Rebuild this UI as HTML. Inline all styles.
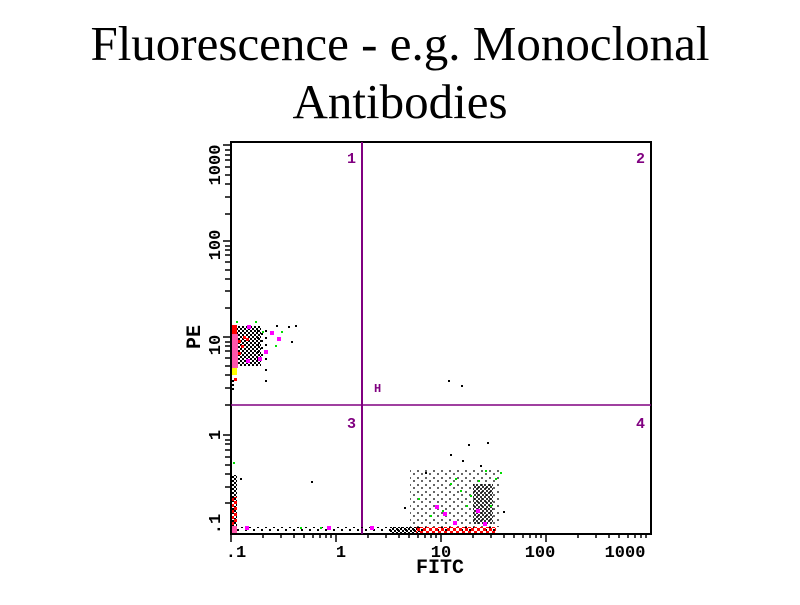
<!DOCTYPE html>
<html><head><style>
body{margin:0;background:#fff;width:800px;height:600px;overflow:hidden}
</style></head><body>
<svg width="800" height="600" xmlns="http://www.w3.org/2000/svg">
<defs>
<pattern id="ck" width="4" height="4" patternUnits="userSpaceOnUse"><rect x="0" y="0" width="2" height="2" fill="#000"/><rect x="2" y="2" width="2" height="2" fill="#000"/></pattern>
<pattern id="sp" width="8" height="7" patternUnits="userSpaceOnUse"><rect x="1" y="1" width="2" height="2" fill="#000"/><rect x="5" y="4" width="2" height="2" fill="#000"/></pattern>
<pattern id="rd" width="6" height="6" patternUnits="userSpaceOnUse"><rect x="0" y="3" width="3" height="3" fill="#f00"/><rect x="3" y="0" width="3" height="3" fill="#f00"/></pattern>
</defs>
<text x="400" y="60" text-anchor="middle" font-family="Liberation Serif, serif" font-size="49">Fluorescence - e.g. Monoclonal</text>
<text x="400" y="118" text-anchor="middle" font-family="Liberation Serif, serif" font-size="49">Antibodies</text>
<g stroke="#000" stroke-width="2" fill="none">
<line x1="231" y1="141" x2="231" y2="535"/>
<line x1="230" y1="142" x2="652" y2="142"/>
<line x1="651" y1="141" x2="651" y2="535"/>
<line x1="230" y1="534" x2="652" y2="534"/>
</g>
<line x1="231" y1="405" x2="651" y2="405" stroke="#800080" stroke-width="1.5"/>
<line x1="362" y1="142" x2="362" y2="534" stroke="#800080" stroke-width="2"/>
<g font-family="Liberation Mono, monospace" font-weight="bold" font-size="15" fill="#800080">
<text x="347" y="163">1</text><text x="636" y="163">2</text>
<text x="347" y="428">3</text><text x="636" y="428">4</text>
<text x="374" y="392" font-size="12">H</text>
</g>
<g stroke="#000" stroke-width="1.5">
<line x1="223" y1="145" x2="231" y2="145"/><line x1="225" y1="150" x2="231" y2="150"/><line x1="225" y1="155" x2="231" y2="155"/><line x1="225" y1="160" x2="231" y2="160"/><line x1="225" y1="167" x2="231" y2="167"/><line x1="225" y1="175" x2="231" y2="175"/><line x1="225" y1="184" x2="231" y2="184"/><line x1="225" y1="197" x2="231" y2="197"/><line x1="225" y1="214" x2="231" y2="214"/>
<line x1="223" y1="241" x2="231" y2="241"/><line x1="225" y1="246" x2="231" y2="246"/><line x1="225" y1="250" x2="231" y2="250"/><line x1="225" y1="255" x2="231" y2="255"/><line x1="225" y1="262" x2="231" y2="262"/><line x1="225" y1="270" x2="231" y2="270"/><line x1="225" y1="279" x2="231" y2="279"/><line x1="225" y1="291" x2="231" y2="291"/><line x1="225" y1="308" x2="231" y2="308"/>
<line x1="223" y1="337" x2="231" y2="337"/><line x1="225" y1="342" x2="231" y2="342"/><line x1="225" y1="346" x2="231" y2="346"/><line x1="225" y1="351" x2="231" y2="351"/><line x1="225" y1="358" x2="231" y2="358"/><line x1="225" y1="366" x2="231" y2="366"/><line x1="225" y1="375" x2="231" y2="375"/><line x1="225" y1="388" x2="231" y2="388"/><line x1="225" y1="405" x2="231" y2="405"/>
<line x1="223" y1="435" x2="231" y2="435"/><line x1="225" y1="440" x2="231" y2="440"/><line x1="225" y1="444" x2="231" y2="444"/><line x1="225" y1="450" x2="231" y2="450"/><line x1="225" y1="457" x2="231" y2="457"/><line x1="225" y1="465" x2="231" y2="465"/><line x1="225" y1="474" x2="231" y2="474"/><line x1="225" y1="487" x2="231" y2="487"/><line x1="225" y1="503" x2="231" y2="503"/>
</g>
<g stroke="#000" stroke-width="1.5">
<line x1="231" y1="534" x2="231" y2="542"/><line x1="263" y1="534" x2="263" y2="538"/><line x1="281" y1="534" x2="281" y2="538"/><line x1="294" y1="534" x2="294" y2="538"/><line x1="304" y1="534" x2="304" y2="538"/><line x1="313" y1="534" x2="313" y2="538"/><line x1="320" y1="534" x2="320" y2="538"/><line x1="326" y1="534" x2="326" y2="538"/><line x1="331" y1="534" x2="331" y2="538"/>
<line x1="336" y1="534" x2="336" y2="542"/><line x1="368" y1="534" x2="368" y2="538"/><line x1="386" y1="534" x2="386" y2="538"/><line x1="399" y1="534" x2="399" y2="538"/><line x1="409" y1="534" x2="409" y2="538"/><line x1="418" y1="534" x2="418" y2="538"/><line x1="425" y1="534" x2="425" y2="538"/><line x1="431" y1="534" x2="431" y2="538"/><line x1="436" y1="534" x2="436" y2="538"/>
<line x1="441" y1="534" x2="441" y2="542"/><line x1="473" y1="534" x2="473" y2="538"/><line x1="491" y1="534" x2="491" y2="538"/><line x1="504" y1="534" x2="504" y2="538"/><line x1="514" y1="534" x2="514" y2="538"/><line x1="523" y1="534" x2="523" y2="538"/><line x1="530" y1="534" x2="530" y2="538"/><line x1="536" y1="534" x2="536" y2="538"/><line x1="541" y1="534" x2="541" y2="538"/>
<line x1="546" y1="534" x2="546" y2="542"/><line x1="578" y1="534" x2="578" y2="538"/><line x1="596" y1="534" x2="596" y2="538"/><line x1="609" y1="534" x2="609" y2="538"/><line x1="619" y1="534" x2="619" y2="538"/><line x1="628" y1="534" x2="628" y2="538"/><line x1="635" y1="534" x2="635" y2="538"/><line x1="641" y1="534" x2="641" y2="538"/><line x1="646" y1="534" x2="646" y2="538"/>
</g>
<g font-family="Liberation Mono, monospace" font-weight="bold" font-size="17" fill="#000">
<text x="236" y="557" text-anchor="middle">.1</text>
<text x="341" y="557" text-anchor="middle">1</text>
<text x="441" y="557" text-anchor="middle">10</text>
<text x="540" y="557" text-anchor="middle">100</text>
<text x="625" y="557" text-anchor="middle">1000</text>
<text x="440" y="573" text-anchor="middle" font-size="20">FITC</text>
<g transform="rotate(-90)">
<text x="-345" y="220" text-anchor="middle">10</text>
<text x="-245" y="220" text-anchor="middle">100</text>
<text x="-165" y="220" text-anchor="middle">1000</text>
<text x="-435" y="220" text-anchor="middle">1</text>
<text x="-524" y="220" text-anchor="middle">.1</text>
<text x="-337" y="200" text-anchor="middle" font-size="20">PE</text>
</g>
</g>
<!-- upper-left cluster -->
<rect x="237" y="326" width="24" height="40" fill="url(#ck)"/>
<rect x="255" y="330" width="14" height="30" fill="url(#sp)"/>
<rect x="232" y="334" width="6" height="34" fill="#ff55aa"/>
<rect x="232" y="325" width="5" height="9" fill="#ff0000"/>
<rect x="232" y="368" width="5" height="7" fill="#ffff00"/>
<g fill="#ff0000"><rect x="238" y="340" width="3" height="3"/><rect x="241" y="345" width="3" height="3"/><rect x="238" y="352" width="3" height="3"/><rect x="243" y="336" width="3" height="3"/><rect x="234" y="378" width="3" height="3"/><rect x="246" y="338" width="3" height="3"/></g>
<g fill="#ff00ff"><rect x="247" y="325" width="4" height="4"/><rect x="270" y="331" width="4" height="4"/><rect x="277" y="337" width="4" height="4"/><rect x="264" y="350" width="4" height="4"/><rect x="258" y="357" width="4" height="4"/><rect x="246" y="359" width="4" height="4"/></g>
<g fill="#00dd00"><rect x="236" y="321" width="2" height="2"/><rect x="255" y="321" width="2" height="2"/><rect x="262" y="331" width="2" height="2"/><rect x="281" y="331" width="2" height="2"/><rect x="275" y="345" width="2" height="2"/></g>
<g fill="#000"><rect x="265" y="369" width="2" height="2"/><rect x="265" y="380" width="2" height="2"/><rect x="291" y="341" width="2" height="2"/><rect x="295" y="325" width="2" height="2"/><rect x="232" y="378" width="2" height="12" fill="url(#ck)"/><rect x="448" y="380" width="2" height="2"/><rect x="461" y="385" width="2" height="2"/><rect x="276" y="325" width="2" height="2"/><rect x="288" y="326" width="2" height="2"/></g>
<!-- lower-left column -->
<rect x="232" y="475" width="5" height="58" fill="url(#ck)"/>
<rect x="232" y="497" width="5" height="28" fill="url(#rd)"/>
<rect x="232" y="526" width="5" height="7" fill="#ff55aa"/>
<!-- bottom band -->
<rect x="237" y="527" width="260" height="6" fill="url(#sp)"/>
<rect x="390" y="527" width="30" height="6" fill="url(#ck)"/>
<rect x="416" y="527" width="80" height="6" fill="url(#rd)"/>
<!-- lower-right cluster -->
<rect x="410" y="470" width="90" height="57" fill="url(#sp)" opacity="0.6"/>
<rect x="473" y="484" width="20" height="40" fill="url(#ck)" opacity="0.8"/>
<g fill="#00dd00"><rect x="418" y="498" width="2" height="2"/><rect x="450" y="483" width="2" height="2"/><rect x="455" y="478" width="2" height="2"/><rect x="470" y="495" width="2" height="2"/><rect x="485" y="470" width="2" height="2"/><rect x="500" y="472" width="2" height="2"/><rect x="442" y="510" width="2" height="2"/><rect x="430" y="515" width="2" height="2"/><rect x="466" y="505" width="2" height="2"/><rect x="490" y="505" width="2" height="2"/><rect x="233" y="462" width="2" height="2"/><rect x="300" y="527" width="2" height="2"/><rect x="320" y="527" width="2" height="2"/><rect x="460" y="490" width="2" height="2"/><rect x="478" y="480" width="2" height="2"/><rect x="495" y="478" width="2" height="2"/></g>
<g fill="#ff00ff"><rect x="435" y="505" width="4" height="4"/><rect x="443" y="512" width="4" height="4"/><rect x="453" y="521" width="4" height="4"/><rect x="476" y="509" width="4" height="4"/><rect x="483" y="522" width="4" height="4"/><rect x="327" y="526" width="4" height="4"/><rect x="370" y="526" width="4" height="4"/><rect x="245" y="526" width="4" height="4"/></g>
<g fill="#000"><rect x="468" y="444" width="2" height="2"/><rect x="487" y="442" width="2" height="2"/><rect x="450" y="454" width="2" height="2"/><rect x="462" y="460" width="2" height="2"/><rect x="425" y="472" width="2" height="2"/><rect x="480" y="465" width="2" height="2"/><rect x="503" y="511" width="2" height="2"/><rect x="311" y="481" width="2" height="2"/><rect x="240" y="478" width="2" height="2"/><rect x="404" y="507" width="2" height="2"/></g>
</svg>
</body></html>
